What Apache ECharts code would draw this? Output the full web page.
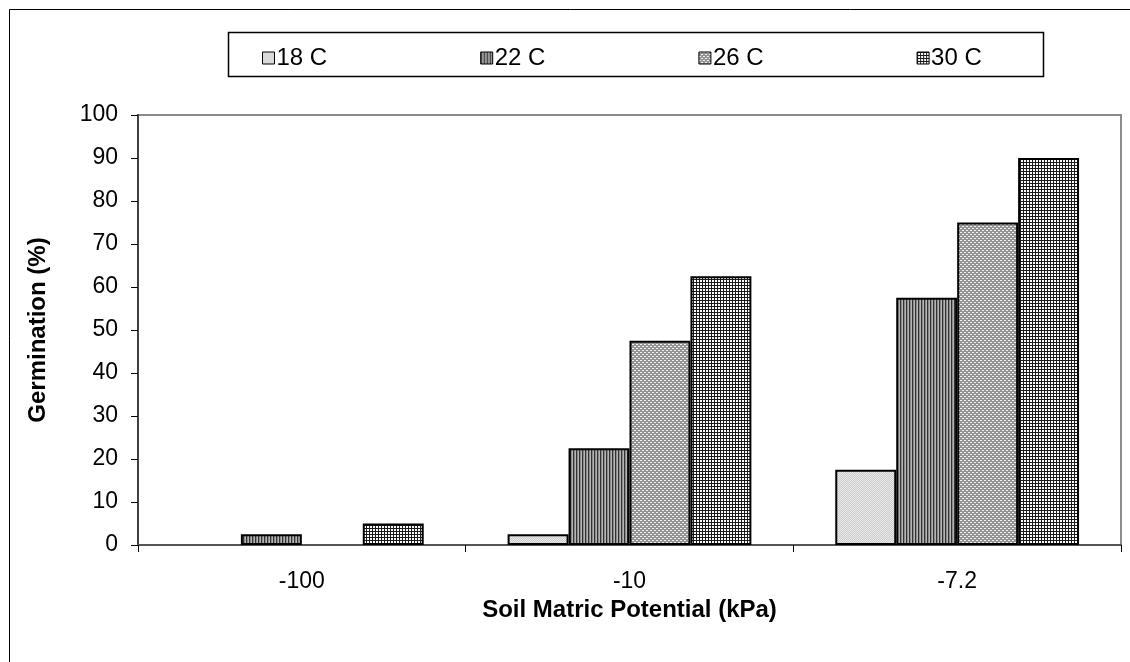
<!DOCTYPE html>
<html>
<head>
<meta charset="utf-8">
<script src="https://cdn.jsdelivr.net/npm/echarts@6/dist/echarts.min.js"></script>
<style>
  html, body { margin: 0; padding: 0; background: #fff; }
  #chart { width: 1130px; height: 662px; }
</style>
</head>
<body>
<div id="chart"></div>
<script>
// Germination (%) by soil matric potential and temperature
const categories = ['-100', '-10', '-7.2'];
const seriesNames = ['18 C', '22 C', '26 C', '30 C'];
const germ18 = [0, 2.5, 17.5];
const germ22 = [2.5, 22.5, 57.5];
const germ26 = [0, 47.5, 75];
const germ30 = [5, 62.5, 90];
const yTicks = [0, 10, 20, 30, 40, 50, 60, 70, 80, 90, 100];

// Build a small repeating pixel tile used as a hatch fill
function tile(rows, palette) {
  const h = rows.length, w = rows[0].length;
  const c = document.createElement('canvas');
  c.width = w; c.height = h;
  const ctx = c.getContext('2d');
  for (let y = 0; y < h; y++) {
    for (let x = 0; x < w; x++) {
      ctx.fillStyle = palette[rows[y][x]];
      ctx.fillRect(x, y, 1, 1);
    }
  }
  return { image: c, repeat: 'repeat' };
}

const fills = [
  // fine light-grey dots
  tile(['ab', 'ba'], { a: '#e8e8e8', b: '#cdcdcd' }),
  // dark vertical stripes
  tile(['abc'], { a: '#333333', b: '#8a8a8a', c: '#b4b4b4' }),
  // grey woven rows
  tile(['aabb', 'bbbb', 'bbaa', 'bbbb'], { a: '#f2f2f2', b: '#939393' }),
  // black grid on white
  tile(['aaa', 'abb', 'abb'], { a: '#1a1a1a', b: '#ffffff' })
];

const values = [germ18, germ22, germ26, germ30];

const chart = echarts.init(document.getElementById('chart'), null, { renderer: 'canvas' });

const font = 'Liberation Sans, Arial, sans-serif';

chart.setOption({
  animation: false,
  backgroundColor: '#ffffff',
  textStyle: { fontFamily: font },
  graphic: [
    {
      type: 'rect',
      shape: { x: 9.5, y: 9.5, width: 1200, height: 700 },
      style: { fill: 'none', stroke: '#000', lineWidth: 1 },
      silent: true, z: -10
    },
    {
      type: 'rect',
      shape: { x: 228.5, y: 32.5, width: 815, height: 44 },
      style: { fill: '#fff', stroke: '#000', lineWidth: 1.5 },
      silent: true, z: 0
    }
  ],
  legend: {
    data: seriesNames,
    left: 257,
    top: 41,
    itemWidth: 12,
    itemHeight: 12,
    itemGap: 153,
    icon: 'rect',
    z: 10,
    itemStyle: { borderColor: '#000', borderWidth: 1 },
    textStyle: { fontFamily: font, fontSize: 24, color: '#000', padding: [0, 0, 0, -3] }
  },
  grid: {
    left: 138, right: 9, top: 115, bottom: 117,
    show: true, borderColor: '#8c8c8c', borderWidth: 2, backgroundColor: '#fff'
  },
  xAxis: {
    type: 'category',
    data: categories,
    name: 'Soil Matric Potential (kPa)',
    nameLocation: 'middle',
    nameGap: 51,
    nameTextStyle: { fontFamily: font, fontSize: 24, fontWeight: 'bold', color: '#000' },
    axisLine: { show: true, lineStyle: { color: '#555', width: 2 } },
    axisTick: { show: true, length: 7, lineStyle: { color: '#000', width: 1 } },
    axisLabel: { margin: 25, fontFamily: font, fontSize: 23, color: '#000' },
    splitLine: { show: false }
  },
  yAxis: {
    type: 'value',
    min: 0, max: 100, interval: 10,
    name: 'Germination (%)',
    nameLocation: 'middle',
    nameGap: 88,
    nameTextStyle: { fontFamily: font, fontSize: 24, fontWeight: 'bold', color: '#000' },
    axisLine: { show: true, lineStyle: { color: '#404040', width: 2 } },
    axisTick: { show: true, length: 7, lineStyle: { color: '#000', width: 1 } },
    axisLabel: {
      margin: 20, fontFamily: font, fontSize: 23, color: '#000',
      formatter: v => (yTicks.includes(v) ? String(v) : '')
    },
    splitLine: { show: false }
  },
  series: seriesNames.map((name, i) => ({
    name,
    type: 'bar',
    // a zero reading leaves no outlined sliver on the axis
    data: values[i].map(v => (v === 0 ? { value: v, itemStyle: { borderWidth: 0 } } : v)),
    barGap: '0%',
    barCategoryGap: '25.6%',
    itemStyle: { color: fills[i], borderColor: '#000', borderWidth: 2 },
    emphasis: { disabled: true }
  }))
});
</script>
</body>
</html>
